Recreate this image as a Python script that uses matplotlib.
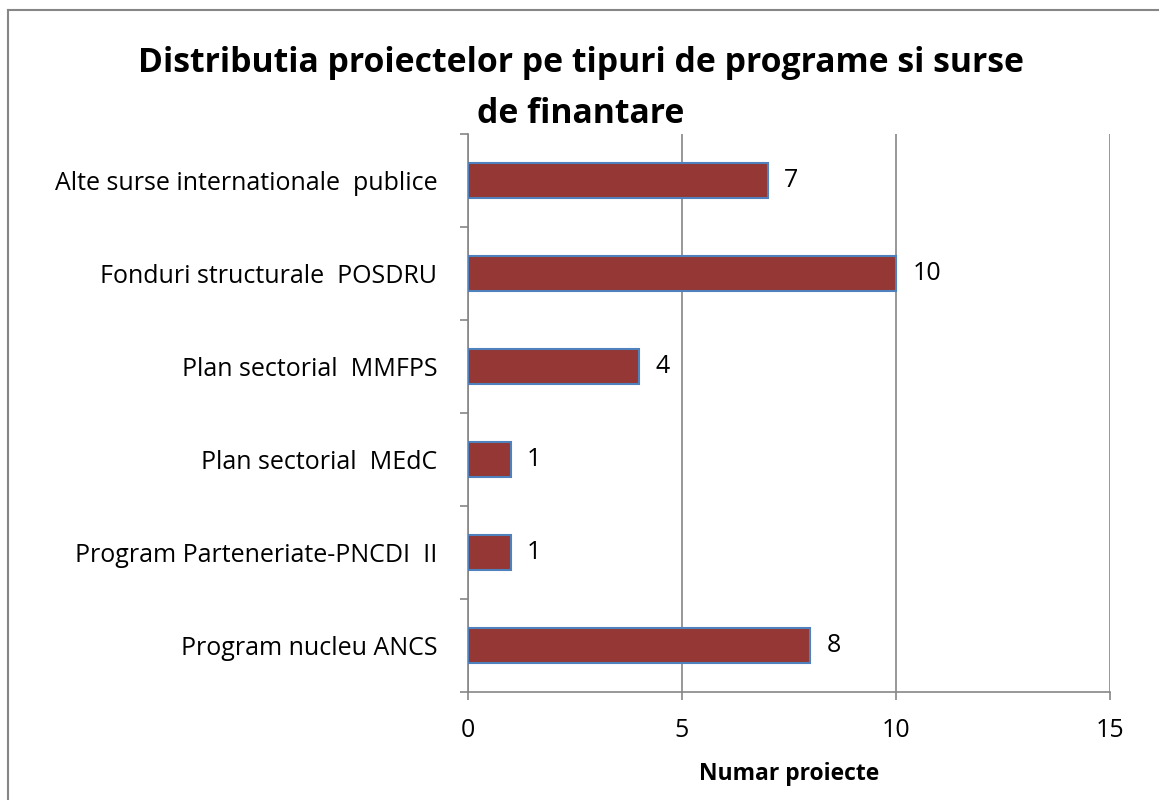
import matplotlib
matplotlib.use("Agg")
import matplotlib.pyplot as plt
from matplotlib.lines import Line2D

categories = ["Alte surse internationale  publice",
              "Fonduri structurale  POSDRU",
              "Plan sectorial  MMFPS",
              "Plan sectorial  MEdC",
              "Program Parteneriate-PNCDI  II",
              "Program nucleu ANCS"]
values = [7, 10, 4, 1, 1, 8]
xticks = [0, 5, 10, 15]

plt.rcParams['font.family'] = ['Open Sans', 'DejaVu Sans']

W, H = 1159, 800
fig = plt.figure(figsize=(W/100, H/100), dpi=100)
ax = fig.add_axes([468/W, 1-692/H, (1110-468)/W, (692-134)/H])

fs = 18
n = len(categories)
ypos = list(range(n-1, -1, -1))
ax.barh(ypos, values, height=0.38, color='#953735', edgecolor='#4F81BD', linewidth=1.5, zorder=3)
for y, v in zip(ypos, values):
    ax.text(v + 0.38, y, str(v), va='center', ha='left', fontsize=fs, color='black')

ax.set_xlim(0, 15)
ax.set_ylim(-0.5, n-0.5)
ax.set_xticks(xticks)
ax.set_xticklabels([str(t) for t in xticks], fontsize=fs)
ax.set_yticks(ypos)
ax.set_yticklabels(categories, fontsize=fs)
ax.tick_params(axis='y', length=0, pad=22)
ax.set_yticks([i - 0.5 for i in range(n+1)], minor=True)
ax.tick_params(axis='y', which='minor', length=6, color='#868686', width=1.2)
ax.tick_params(axis='x', length=6, color='#868686', width=1.2, pad=13)
ax.xaxis.grid(True, color='#868686', linewidth=1.2, zorder=0)
for s in ['top', 'right']:
    ax.spines[s].set_visible(False)
for s in ['left', 'bottom']:
    ax.spines[s].set_color('#868686')
    ax.spines[s].set_linewidth(1.2)

fig.text(789/W, 1-774/H, "Numar proiecte", ha='center', va='center', fontsize=16.5, fontweight='bold')
fig.text(581/W, 1-63/H, "Distributia proiectelor pe tipuri de programe si surse", ha='center', va='center', fontsize=24.3, fontweight='bold')
fig.text(581/W, 1-114/H, "de finantare", ha='center', va='center', fontsize=24.3, fontweight='bold')

fig.add_artist(Line2D([8/W, 8/W], [0, 1-10/H], transform=fig.transFigure, color='#868686', linewidth=1.5))
fig.add_artist(Line2D([8/W, 1], [1-10/H, 1-10/H], transform=fig.transFigure, color='#868686', linewidth=1.5))

fig.savefig("out.png", dpi=100)
